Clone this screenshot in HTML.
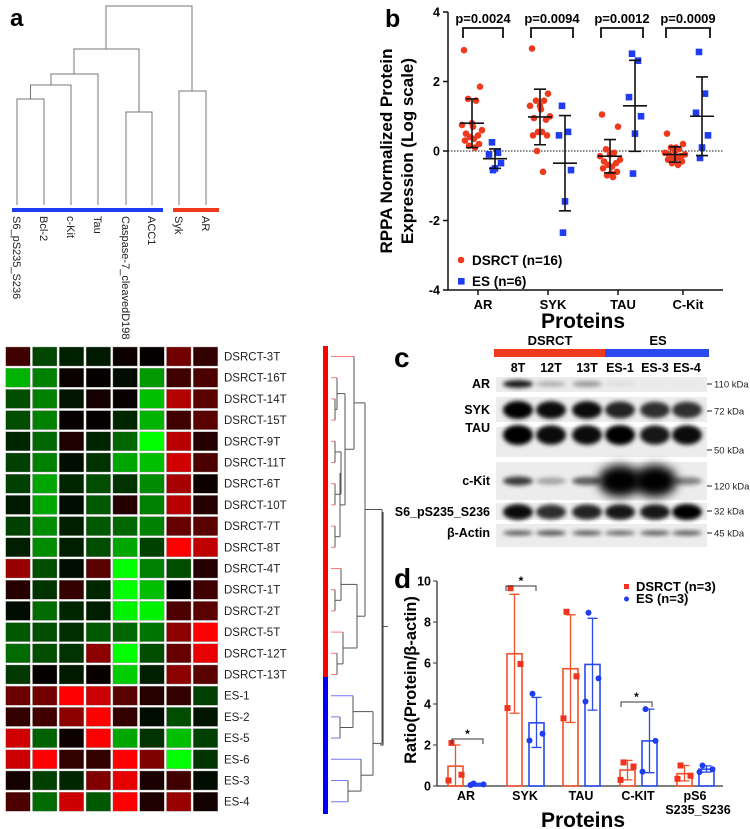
<!DOCTYPE html>
<html><head><meta charset="utf-8">
<style>
html,body{margin:0;padding:0;background:#fff;}
svg{display:block;font-family:"Liberation Sans",Arial,sans-serif;}
.b{font-weight:bold;}
</style></head>
<body>
<svg id="fig" width="750" height="829" viewBox="0 0 750 829" xmlns="http://www.w3.org/2000/svg">
<defs>
<filter id="blur1" x="-50%" y="-50%" width="200%" height="200%"><feGaussianBlur stdDeviation="2.2"/></filter>
<filter id="blur2" x="-50%" y="-50%" width="200%" height="200%"><feGaussianBlur stdDeviation="5"/></filter>
</defs>

<g id="panel-a">
<text x="10" y="26" class="b" font-size="24">a</text>
<g stroke="#777" stroke-width="1" fill="none">
<path d="M17,205V99H44V205"/>
<path d="M30.5,99V85H71V205"/>
<path d="M51,85V74H98V205"/>
<path d="M126,205V112H152V112V205"/>
<path d="M74,74V49H139V112"/>
<path d="M179,205V91H206V205"/>
<path d="M106,49V6H192V91"/>
</g>
<rect x="12" y="208" width="151" height="4" fill="#1f3cf5"/>
<rect x="173" y="208" width="46" height="4" fill="#f03a1e"/>
<g font-size="11" fill="#222">
<text transform="translate(13,216) rotate(90)">S6_pS235_S236</text>
<text transform="translate(40,216) rotate(90)">Bcl-2</text>
<text transform="translate(67,216) rotate(90)">c-Kit</text>
<text transform="translate(94,216) rotate(90)">Tau</text>
<text transform="translate(122,216) rotate(90)">Caspase-7_cleavedD198</text>
<text transform="translate(148,216) rotate(90)">ACC1</text>
<text transform="translate(175,216) rotate(90)">Syk</text>
<text transform="translate(202,216) rotate(90)">AR</text>
</g>
<g id="heatmap"></g>
<g id="rowlabels" font-size="11.5" fill="#222"></g>
<rect x="323" y="346" width="5" height="331" fill="#f00"/>
<rect x="323" y="677" width="5" height="137" fill="#00f"/>
<g id="rowdendro" fill="none" stroke-width="1"></g>
</g>

<g id="panel-b">
<text x="385" y="27" class="b" font-size="25">b</text>
<g id="b-chart"></g>
</g>

<g id="panel-c">
<text x="394" y="367" class="b" font-size="28">c</text>
<rect x="494" y="349" width="111" height="8" fill="#f03a1e"/>
<rect x="605" y="349" width="104" height="8" fill="#2a4af0"/>
<text x="550" y="345" class="b" font-size="13" text-anchor="middle">DSRCT</text>
<text x="658" y="345" class="b" font-size="13" text-anchor="middle">ES</text>
<g id="blot"></g>
</g>

<g id="panel-d">
<text x="394" y="588" class="b" font-size="28">d</text>
<path d="M383,512V745H380" stroke="#333" fill="none"/>
<g id="d-chart"></g>
</g>
</svg>
<script>
const hmRows = ["DSRCT-3T","DSRCT-16T","DSRCT-14T","DSRCT-15T","DSRCT-9T","DSRCT-11T","DSRCT-6T","DSRCT-10T","DSRCT-7T","DSRCT-8T","DSRCT-4T","DSRCT-1T","DSRCT-2T","DSRCT-5T","DSRCT-12T","DSRCT-13T","ES-1","ES-2","ES-5","ES-6","ES-3","ES-4"];
const hmCols = ["S6_pS235_S236","Bcl-2","c-Kit","Tau","Caspase-7_cleavedD198","ACC1","Syk","AR"];
const hmValues = [
[0.25,-0.27,-0.13,-0.1,0.05,0.02,0.45,0.2],
[-0.7,-0.5,0.04,0.02,-0.05,-0.6,0.25,0.3],
[-0.3,-0.5,-0.08,0.08,0.03,-0.75,0.7,0.35],
[-0.3,-0.5,0.03,0.02,-0.15,-0.7,0.25,0.35],
[-0.15,-0.4,0.12,-0.15,-0.4,-1.0,0.72,0.15],
[-0.25,-0.5,-0.05,-0.2,-0.65,-0.75,0.82,0.3],
[-0.25,-0.65,-0.15,-0.3,-0.2,-0.55,0.65,0.05],
[-0.1,-0.65,-0.05,-0.35,0.15,-0.5,0.72,0.15],
[-0.25,-0.55,-0.12,-0.35,-0.4,-0.5,0.4,0.35],
[-0.12,-0.55,-0.12,-0.3,-0.65,-0.25,1.0,0.75],
[0.6,-0.3,-0.05,0.35,-1.0,-0.5,-0.3,0.15],
[0.15,-0.2,0.2,-0.15,-1.0,-0.75,0.02,0.25],
[-0.05,-0.42,-0.15,-0.12,-0.95,-0.95,0.3,0.35],
[-0.35,-0.3,-0.18,-0.35,-0.4,-0.45,0.55,1.0],
[-0.42,-0.3,-0.2,0.55,-1.0,-0.3,0.4,0.9],
[-0.22,0.02,-0.1,0.03,-0.8,-0.12,0.55,0.35],
[0.42,0.45,1.0,0.8,0.35,0.15,0.2,-0.25],
[0.2,0.25,0.55,1.0,0.2,-0.05,-0.3,-0.08],
[0.82,-0.38,0.05,1.0,-0.65,-0.2,-0.75,-0.25],
[0.8,1.0,0.2,0.2,1.0,0.5,-1.0,-0.2],
[0.08,-0.25,-0.15,0.5,0.9,0.1,0.25,-0.05],
[0.3,-0.42,0.8,-0.35,1.0,0.12,0.6,0.08]
];
const bCategories = ["AR","SYK","TAU","C-Kit"];
const bPValues = ["p=0.0024","p=0.0094","p=0.0012","p=0.0009"];
const bDsrctPoints = [
[2.9,1.85,1.5,1.45,0.8,0.75,0.6,0.5,0.45,0.4,0.35,0.3,0.2,0.15,0.1,0.7],
[2.95,1.65,1.45,1.45,1.3,1.3,1.0,0.95,0.9,0.55,0.55,0.45,0.45,0.0,-0.6,1.2],
[1.05,0.7,0.05,-0.05,-0.1,-0.15,-0.25,-0.3,-0.35,-0.4,-0.45,-0.5,-0.6,-0.7,-0.75,-0.65],
[0.5,0.2,0.1,0.05,0.0,-0.05,-0.1,-0.1,-0.15,-0.2,-0.2,-0.25,-0.3,-0.35,-0.4,0.1]];
const bEsPoints = [
[0.25,-0.05,-0.1,-0.35,-0.5,-0.55],
[1.3,0.55,0.45,-0.55,-1.45,-2.35],
[2.8,2.6,1.55,1.0,0.5,-0.65],
[2.85,1.65,1.1,0.45,0.1,-0.2]];
const bDsrctMean = [0.8,0.98,-0.15,-0.1];
const bDsrctSd = [0.7,0.8,0.48,0.22];
const bEsMean = [-0.22,-0.35,1.3,1.0];
const bEsSd = [0.28,1.37,1.31,1.13];
const bTicks = [-4,-2,0,2,4];
const cLanes = ["8T","12T","13T","ES-1","ES-3","ES-4"];
const cBlots = ["AR","SYK","TAU","c-Kit","S6_pS235_S236","β-Actin"];
const cMarkers = ["110 kDa","72 kDa","50 kDa","120 kDa","32 kDa","45 kDa"];
const cIntensity = [
[0.9,0.25,0.35,0.06,0.02,0.02],
[1,0.95,0.95,0.85,0.8,0.8],
[1,0.95,0.95,1,0.9,0.95],
[0.75,0.3,0.6,1,1,0.45],
[0.95,0.8,0.85,0.9,0.9,1],
[0.6,0.65,0.6,0.55,0.6,0.6]];
const dCategories = ["AR","SYK","TAU","C-KIT","pS6"];
const dDsrctMean = [0.97,6.45,5.72,0.78,0.6];
const dDsrctLo = [0,3.55,3.1,0.3,0.25];
const dDsrctHi = [2.0,9.35,8.35,1.25,1.0];
const dDsrctPts = [[2.1,0.55,0.27],[9.65,5.95,3.8],[8.5,5.35,3.3],[1.15,0.95,0.3],[1.0,0.5,0.35]];
const dEsMean = [0.08,3.08,5.93,2.2,0.82];
const dEsLo = [0.03,1.88,3.7,0.65,0.68];
const dEsHi = [0.13,4.32,8.18,3.75,0.98];
const dEsPts = [[0.12,0.08,0.05],[4.5,2.55,2.22],[8.45,5.25,4.12],[3.75,2.2,0.7],[1.0,0.82,0.68]];
const dTicks = [0,2,4,6,8,10];

const NS="http://www.w3.org/2000/svg";
function mk(parent,tag,attrs,text){const e=document.createElementNS(NS,tag);for(const k in attrs)e.setAttribute(k,attrs[k]);if(text!==undefined)e.textContent=text;parent.appendChild(e);return e;}

const hm=document.getElementById('heatmap'), rl=document.getElementById('rowlabels');
const hx0=5.7, hpx=26.8, hy0=347, hpy=21.2;
function hmColor(v){const c=Math.round(Math.min(1,Math.abs(v))*255);return v>=0?`rgb(${c},0,0)`:`rgb(0,${c},0)`;}
hmValues.forEach((row,i)=>{
  row.forEach((v,j)=>{
    const r=mk(hm,'rect',{x:hx0+j*hpx,y:hy0+i*hpy,width:hpx-2.3,height:hpy-2.2,fill:hmColor(v),stroke:'#9a9a9a','stroke-width':0.4});
    
    
  });
  const t=mk(rl,'text',{x:224,y:hy0+i*hpy+13.5},hmRows[i]);
  
  
});
const rd=document.getElementById('rowdendro');
const rowY=i=>hy0+i*hpy+9.5;
function J(a,b,x){return {a,b,x};}
const n1=J(2,3,335),n2=J(1,n1,337),n3=J(4,5,335),n4=J(6,7,335),n5=J(n3,n4,341),n6=J(8,9,335),n7=J(n5,n6,340),n8=J(n2,n7,345),n9=J(0,n8,354);
const n10=J(11,12,335),n11=J(10,n10,341),n12=J(14,15,337),n13=J(13,n12,343),n14=J(n11,n13,357),n15=J(n9,n14,365);
const e1=J(17,18,340),e2=J(16,e1,353),e3=J(20,21,348),e4=J(19,e3,361),e5=J(e2,e4,373);
const root=J(n15,e5,382);
function draw(n){
  if(typeof n==='number') return {x:331,y:rowY(n),leaf:n};
  const A=draw(n.a),B=draw(n.b);
  [A,B].forEach(c=>{
    const col=c.leaf!==undefined?(c.leaf<16?'#f77':'#77f'):'#555';
    mk(rd,'path',{d:`M${c.x},${c.y}H${n.x}`,stroke:col});
  });
  mk(rd,'path',{d:`M${n.x},${A.y}V${B.y}`,stroke:'#555'});
  return {x:n.x,y:(A.y+B.y)/2};
}
const rr=draw(root); mk(rd,'path',{d:`M${rr.x},${rr.y}H388`,stroke:'#555'});

(function(){
  const g=document.getElementById('b-chart');
  const yS=v=>151-34.75*v;
  const xD=[472,540,610,675], xE=[495,565,635,702], xLab=[483,553,623,688];
  const red='#f03a1e', blue='#1f3cf0';
  mk(g,'path',{d:'M448,12V290H723',stroke:'#111','stroke-width':1.5,fill:'none'});
  bTicks.forEach(t=>{
    mk(g,'path',{d:`M443,${yS(t)}H448`,stroke:'#111','stroke-width':1.5});
    const tl=mk(g,'text',{x:440,y:yS(t)+4.5,'text-anchor':'end','font-size':12.5,'font-weight':'bold'},String(t));
    
    
  });
  mk(g,'path',{d:`M448,${yS(0)}H723`,stroke:'#111','stroke-dasharray':'1.5,1.5',fill:'none'});
  const jit=[-8,8,-4,4,0,-10,10,-6,6,-2,2,-7,7,-3,3,1];
  const jitE=[-3,3,-6,6,0,-2];
  bCategories.forEach((c,i)=>{
    mk(g,'path',{d:`M${xLab[i]-5},290V295`,stroke:'#111','stroke-width':1.5});
    const lab=mk(g,'text',{x:xLab[i],y:309,'text-anchor':'middle','font-size':13,'font-weight':'bold'},c);
    
    
    bDsrctPoints[i].forEach((v,k)=>{
      const p=mk(g,'circle',{cx:xD[i]+jit[k%jit.length],cy:yS(v),r:3.3,fill:red});
      
      
    });
    bEsPoints[i].forEach((v,k)=>{
      const p=mk(g,'rect',{x:xE[i]+jitE[k]-3.3,y:yS(v)-3.3,width:6.6,height:6.6,fill:blue});
      
      
    });
    [[xD[i],bDsrctMean[i],bDsrctSd[i]],[xE[i],bEsMean[i],bEsSd[i]]].forEach(([x,m,s])=>{
      const eb=mk(g,'path',{d:`M${x-12},${yS(m)}H${x+12}M${x},${yS(m-s)}V${yS(m+s)}M${x-6},${yS(m-s)}H${x+6}M${x-6},${yS(m+s)}H${x+6}`,stroke:'#111','stroke-width':1.6,fill:'none'});
      
      
    });
    const bx1=xD[i]-9,bx2=xE[i]+8;
    mk(g,'path',{d:`M${bx1},38V28H${bx2}V38`,stroke:'#111','stroke-width':1.8,fill:'none'});
    const pt=mk(g,'text',{x:(bx1+bx2)/2,y:23,'text-anchor':'middle','font-size':13,'font-weight':'bold'},bPValues[i]);
    
    
  });
  const yt=mk(g,'text',{transform:'translate(402,151) rotate(-90)','text-anchor':'middle','font-size':17,'font-weight':'bold'});
  mk(yt,'tspan',{x:0,dy:-10},'RPPA Normalized Protein');
  mk(yt,'tspan',{x:0,dy:21},'Expression (Log scale)');
  
  
  const xt=mk(g,'text',{x:583,y:328,'text-anchor':'middle','font-size':21,'font-weight':'bold'},'Proteins');
  
  
  mk(g,'circle',{cx:461,cy:260,r:3.3,fill:red});
  mk(g,'text',{x:472,y:265,'font-size':13.5,'font-weight':'bold'},'DSRCT (n=16)');
  mk(g,'rect',{x:458,y:278,width:6.6,height:6.6,fill:blue});
  mk(g,'text',{x:472,y:286,'font-size':13.5,'font-weight':'bold'},'ES (n=6)');
})();

(function(){
  const g=document.getElementById('blot');
  const laneX=[518,551,587,620,655,687];
  const boxes=[[377,392],[397,422],[427,457],[462,500],[503,520],[524,547]];
  const bandY=[384,410,435,481,512,533];
  const markY=[384,411,450,486,511,533];
  const bandH=[4,9,10,5,8,3];
  cLanes.forEach((l,i)=>{
    const t=mk(g,'text',{x:laneX[i],y:372,'text-anchor':'middle','font-size':12.5,'font-weight':'bold'},l);
    
    
  });
  cBlots.forEach((b,r)=>{
    const [y1,y2]=boxes[r];
    const bg=mk(g,'rect',{x:496,y:y1,width:211,height:y2-y1,fill:'#ececec'});
    
    
    cIntensity[r].forEach((v,i)=>{
      let rx=15, ry=bandH[r], f='url(#blur1)';
      if(r===3&&(i===3||i===4)){rx=22;ry=16;f='url(#blur2)';}
      const e=mk(g,'ellipse',{cx:laneX[i],cy:bandY[r],rx:rx,ry:ry*(0.6+0.4*v),fill:'#000',opacity:v,filter:f});
      
      
    });
    const lab=mk(g,'text',{x:490,y:bandY[r]+(r===2?-3:4),'text-anchor':'end','font-size':12.5,'font-weight':'bold'},b);
    
    
    mk(g,'path',{d:`M707,${markY[r]}H712`,stroke:'#222'});
    const mkTxt=mk(g,'text',{x:714,y:markY[r]+3.5,'font-size':9.5,fill:'#222'},cMarkers[r]);
    
    
  });
})();

(function(){
  const g=document.getElementById('d-chart');
  const yS=v=>786-20.5*v;
  const cx=[466,525,581,638,695];
  const red='#f0502a', blue='#2a4af0';
  mk(g,'path',{d:'M437,581V786H723',stroke:'#333','stroke-width':1.3,fill:'none'});
  dTicks.forEach(t=>{
    mk(g,'path',{d:`M433,${yS(t)}H437`,stroke:'#333'});
    const tl=mk(g,'text',{x:431,y:yS(t)+4.5,'text-anchor':'end','font-size':12.5,'font-weight':'bold'},String(t));
    
    
  });
  const jit=[-4,6,-7];
  dCategories.forEach((c,i)=>{
    [[cx[i]-10.5,dDsrctMean[i],dDsrctLo[i],dDsrctHi[i],dDsrctPts[i],red,'dsrct'],[cx[i]+11.5,dEsMean[i],dEsLo[i],dEsHi[i],dEsPts[i],blue,'es']].forEach(([x,m,lo,hi,pts,col,nm])=>{
      const bar=mk(g,'rect',{x:x-7.5,y:yS(m),width:15,height:yS(0)-yS(m),fill:'none',stroke:col,'stroke-width':1.6});
      
      
      mk(g,'path',{d:`M${x},${yS(lo)}V${yS(hi)}M${x-5},${yS(lo)}H${x+5}M${x-5},${yS(hi)}H${x+5}`,stroke:col,'stroke-width':1.3,fill:'none'});
      pts.forEach((v,k)=>{
        let p;
        if(nm==='dsrct') p=mk(g,'rect',{x:x+jit[k]-3,y:yS(v)-3,width:6,height:6,fill:'#f0321e'});
        else p=mk(g,'circle',{cx:x+jit[k],cy:yS(v),r:3,fill:'#1f3cf0'});
        
        
      });
    });
    const lab=mk(g,'text',{x:cx[i],y:800,'text-anchor':'middle','font-size':12.5,'font-weight':'bold'},c);
    
    
    if(i===4) mk(g,'text',{x:cx[i]+3,y:814,'text-anchor':'middle','font-size':12.5,'font-weight':'bold'},'S235_S236');
  });
  [[452,483,739],[506,536,586],[621,652,702]].forEach(([a,b,y])=>{
    mk(g,'path',{d:`M${a},${y+5}V${y}H${b}V${y+5}`,stroke:'#333',fill:'none'});
    mk(g,'text',{x:(a+b)/2,y:y-1,'text-anchor':'middle','font-size':12,'font-weight':'bold'},'*');
  });
  const yt=mk(g,'text',{transform:'translate(416,680) rotate(-90)','text-anchor':'middle','font-size':16.5,'font-weight':'bold'},'Ratio(Protein/β-actin)');
  
  
  const xt=mk(g,'text',{x:583,y:827,'text-anchor':'middle','font-size':21,'font-weight':'bold'},'Proteins');
  
  
  mk(g,'rect',{x:624,y:584,width:5,height:5,fill:'#f0321e'});
  mk(g,'text',{x:636,y:591,'font-size':13,'font-weight':'bold'},'DSRCT (n=3)');
  mk(g,'circle',{cx:626.5,cy:599,r:2.5,fill:'#1f3cf0'});
  mk(g,'text',{x:636,y:603,'font-size':13,'font-weight':'bold'},'ES (n=3)');
})();
</script>
</body></html>
